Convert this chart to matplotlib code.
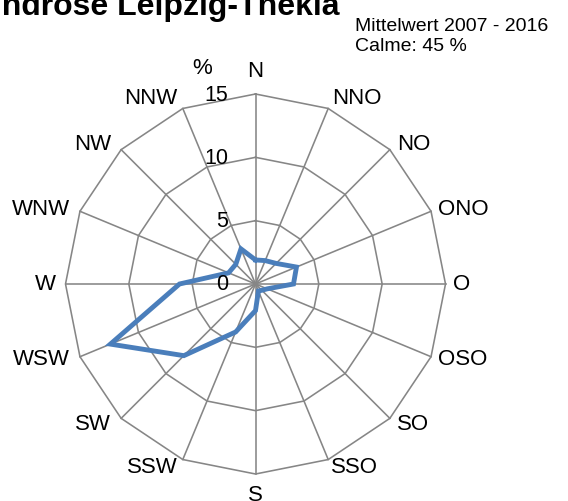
import numpy as np
import matplotlib
matplotlib.use('Agg')
import matplotlib.pyplot as plt

plt.rcParams['font.family'] = ['Liberation Sans', 'DejaVu Sans']

directions = ['N', 'NNO', 'NO', 'ONO', 'O', 'OSO', 'SO', 'SSO',
              'S', 'SSW', 'SW', 'WSW', 'W', 'WNW', 'NW', 'NNW']
freq = [1.9, 2.0, 2.3, 3.5, 3.0, 1.0, 0.7, 0.6,
        2.1, 4.1, 8.0, 12.4, 6.0, 2.3, 2.2, 3.0]
rings = [5, 10, 15]
rmax = 15

W, H = 568, 501
cx, cy, R = 255.5, 284, 190

fig = plt.figure(figsize=(W / 100, H / 100), dpi=100)
ax = fig.add_axes([(cx - R) / W, (H - cy - R) / H, 2 * R / W, 2 * R / H], projection='polar')
ax.set_theta_zero_location('N')
ax.set_theta_direction(-1)
ax.set_ylim(0, rmax)
ax.grid(False)
ax.set_xticks([])
ax.set_yticks([])
ax.spines['polar'].set_visible(False)
ax.patch.set_alpha(0)

theta = np.linspace(0, 2 * np.pi, len(directions), endpoint=False)
theta_c = np.append(theta, theta[0])

grid_col = '#868686'
for t in theta:
    ax.plot([t, t], [0, rmax], color=grid_col, lw=1.15, clip_on=False, zorder=1)
for r in rings:
    ax.plot(theta_c, [r] * len(theta_c), color=grid_col, lw=1.15, clip_on=False, zorder=1)

vals = np.append(freq, freq[0])
ax.plot(theta_c, vals, color='#4a7ebb', lw=3.5, solid_joinstyle='miter', zorder=3)

# radial tick labels left of north spoke
for r in [0] + rings:
    ax.annotate(str(r), xy=(0, r), xytext=(-27, -1), textcoords='offset pixels',
                ha='right', va='center', fontsize=15.5, annotation_clip=False)

# vertical nudge (pixels) for NO/ONO/O/OSO/SO (mirrored on the west side)
side_dy = [5, 1.5, 0, -2.5, -6]

for i, (t, lab) in enumerate(zip(theta, directions)):
    if i == 0:
        ha, va, off = 'center', 'bottom', (0, 12)
    elif i == 8:
        ha, va, off = 'center', 'top', (0, -11)
    elif i < 8:
        ha = 'left'
        if i == 1:
            va, off = 'bottom', (4, -1)
        elif i == 7:
            va, off = 'top', (3, 3)
        else:
            va, off = 'center', (7, side_dy[i - 2])
    else:
        ha = 'right'
        if i == 15:
            va, off = 'bottom', (-5, -1)
        elif i == 9:
            va, off = 'top', (-5, 3)
        else:
            va, off = 'center', (-10, side_dy[14 - i])
    ax.annotate(lab, xy=(t, rmax), xytext=off, textcoords='offset pixels',
                ha=ha, va=va, fontsize=16, annotation_clip=False)

fig.text(-37 / W, 1 - 14.5 / H, 'Windrose Leipzig-Thekla', fontsize=23,
         fontweight='bold', ha='left', va='baseline')
fig.text(355 / W, 1 - 31 / H, 'Mittelwert 2007 - 2016', fontsize=14,
         ha='left', va='baseline')
fig.text(355 / W, 1 - 51 / H, 'Calme: 45 %', fontsize=14, ha='left', va='baseline')
fig.text(192 / W, 1 - 74 / H, '%', fontsize=16, ha='left', va='baseline')

fig.savefig('out.png', dpi=100)
